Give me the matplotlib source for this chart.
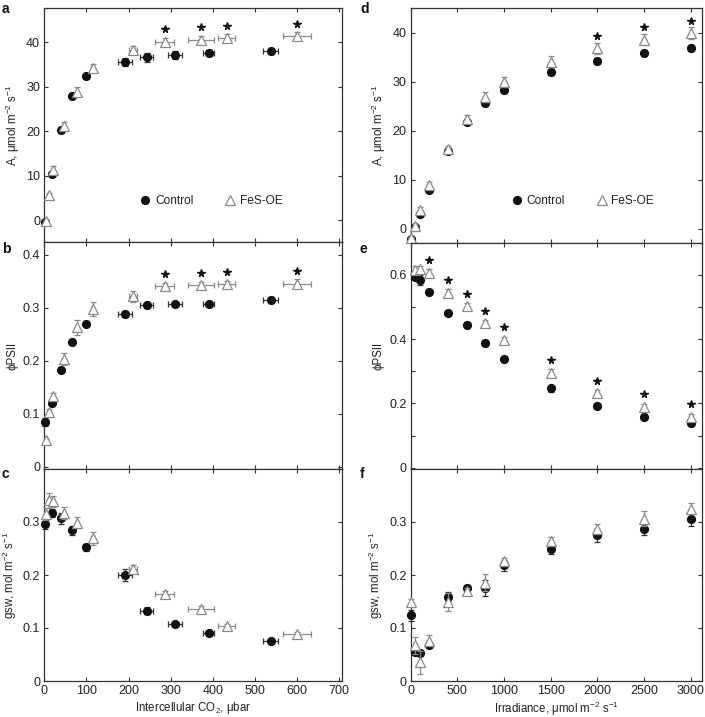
import matplotlib
matplotlib.use("Agg")
import matplotlib.pyplot as plt
from matplotlib.ticker import MultipleLocator
from matplotlib.transforms import offset_copy
from matplotlib.lines import Line2D

plt.rcParams['font.family'] = ['Liberation Sans', 'DejaVu Sans']
plt.rcParams['mathtext.fontset'] = 'custom'
plt.rcParams['mathtext.rm'] = 'Liberation Sans'
plt.rcParams['mathtext.it'] = 'Liberation Sans'

# ---------------- data: CO2 response (left column) ----------------
ci_ctrl = [2, 18, 39, 66, 100, 192, 243, 310, 390, 538]
ci_ctrl_err = [1, 1, 2, 2, 3, 16, 15, 17, 13, 18]
ci_fes = [3, 10, 21, 46, 78, 115, 211, 286, 372, 433, 600]
ci_fes_err = [1, 1, 1, 2, 3, 4, 10, 22, 31, 20, 34]

a_ctrl = [-0.5, 10.3, 20.3, 28.0, 32.5, 35.6, 36.7, 37.1, 37.7, 38.0]
a_ctrl_err = [0.3, 0.5, 0.5, 0.5, 0.6, 0.9, 1.0, 0.9, 0.7, 0.6]
a_fes = [-0.3, 5.7, 11.2, 21.1, 28.9, 34.2, 38.3, 40.2, 40.6, 41.0, 41.4]
a_fes_err = [0.3, 0.5, 0.9, 0.9, 1.1, 0.9, 0.8, 0.8, 0.9, 0.8, 0.9]
a_sig = [0, 0, 0, 0, 0, 0, 0, 1, 1, 1, 1]

phi_ci_ctrl = [0.085, 0.121, 0.182, 0.236, 0.270, 0.288, 0.304, 0.307, 0.307, 0.314]
phi_ci_ctrl_err = [0.008, 0.005, 0.004, 0.004, 0.004, 0.005, 0.004, 0.004, 0.004, 0.005]
phi_ci_fes = [0.050, 0.104, 0.134, 0.203, 0.263, 0.297, 0.321, 0.340, 0.342, 0.344, 0.345]
phi_ci_fes_err = [0.004, 0.005, 0.006, 0.012, 0.014, 0.013, 0.010, 0.006, 0.006, 0.007, 0.008]
phi_ci_sig = [0, 0, 0, 0, 0, 0, 0, 1, 1, 1, 1]

gsw_ci_ctrl = [0.297, 0.317, 0.307, 0.284, 0.252, 0.200, 0.133, 0.107, 0.090, 0.075]
gsw_ci_ctrl_err = [0.010, 0.008, 0.010, 0.008, 0.007, 0.012, 0.006, 0.004, 0.003, 0.003]
gsw_ci_fes = [0.315, 0.341, 0.339, 0.317, 0.299, 0.269, 0.211, 0.164, 0.135, 0.104, 0.089]
gsw_ci_fes_err = [0.012, 0.014, 0.011, 0.012, 0.010, 0.012, 0.008, 0.006, 0.007, 0.004, 0.004]

# ---------------- data: light response (right column) ----------------
irr = [0, 50, 100, 200, 400, 600, 800, 1000, 1500, 2000, 2500, 3000]
a_irr_ctrl = [-2.2, 0.3, 3.0, 7.8, 15.8, 21.8, 25.6, 28.3, 32.0, 34.3, 35.9, 36.9]
a_irr_ctrl_err = [0.3, 0.3, 0.4, 0.4, 0.5, 0.5, 0.6, 0.6, 0.6, 0.6, 0.6, 0.6]
a_irr_fes = [-2.0, 0.55, 3.8, 8.8, 16.3, 22.4, 26.9, 30.0, 34.1, 36.8, 38.6, 39.9]
a_irr_fes_err = [0.3, 0.3, 0.5, 0.7, 0.6, 0.7, 1.0, 1.0, 1.1, 1.1, 1.2, 1.2]
a_irr_sig = [0, 0, 0, 0, 0, 0, 0, 0, 0, 1, 1, 1]

irr_phi = [50, 100, 200, 400, 600, 800, 1000, 1500, 2000, 2500, 3000]
phi_irr_ctrl = [0.593, 0.583, 0.546, 0.481, 0.443, 0.388, 0.337, 0.247, 0.192, 0.159, 0.138]
phi_irr_ctrl_err = [0.008, 0.016, 0.006, 0.006, 0.006, 0.008, 0.008, 0.010, 0.010, 0.008, 0.007]
phi_irr_fes = [0.614, 0.617, 0.607, 0.545, 0.503, 0.449, 0.398, 0.296, 0.232, 0.189, 0.159]
phi_irr_fes_err = [0.012, 0.012, 0.010, 0.010, 0.010, 0.010, 0.010, 0.010, 0.010, 0.008, 0.008]
phi_irr_sig = [0, 0, 1, 1, 1, 1, 1, 1, 1, 1, 1]

gsw_irr_ctrl = [0.124, 0.054, 0.052, 0.067, 0.159, 0.175, 0.175, 0.218, 0.249, 0.275, 0.287, 0.305]
gsw_irr_ctrl_err = [0.010, 0.005, 0.005, 0.004, 0.008, 0.006, 0.015, 0.010, 0.010, 0.012, 0.012, 0.013]
gsw_irr_fes = [0.149, 0.067, 0.035, 0.076, 0.149, 0.169, 0.185, 0.226, 0.265, 0.287, 0.306, 0.325]
gsw_irr_fes_err = [0.006, 0.016, 0.022, 0.010, 0.017, 0.006, 0.016, 0.007, 0.006, 0.009, 0.014, 0.010]

# ---------------- styling ----------------
TXT = '#222222'
SPINE = '#333333'
CTRL_C = '#111111'
FES_C = '#8a8a8a'
FS = 9.0
LFS = 8.6
AXFS = 8.3

fig = plt.figure(figsize=(7.05, 7.17), dpi=100)
W, H = 705.0, 717.0


def make_ax(x0, x1, y0, y1):
    return fig.add_axes([x0 / W, 1 - y1 / H, (x1 - x0) / W, (y1 - y0) / H])


def style(ax, xlim, ylim, xmaj, ymaj, ymin=None, xlabels=False):
    ax.set_xlim(*xlim)
    ax.set_ylim(*ylim)
    ax.xaxis.set_major_locator(MultipleLocator(xmaj))
    ax.yaxis.set_major_locator(MultipleLocator(ymaj))
    if ymin is not None:
        ax.yaxis.set_minor_locator(MultipleLocator(ymin))
        ax.tick_params(axis='y', which='minor', direction='in', length=3,
                       width=0.8, color=SPINE, left=True, right=True)
    ax.tick_params(axis='both', which='major', direction='in', length=3,
                   width=0.8, color=SPINE, labelcolor=TXT, labelsize=FS,
                   top=True, right=True, pad=3)
    if not xlabels:
        ax.tick_params(axis='x', labelbottom=False)
    for s in ax.spines.values():
        s.set_color(SPINE)
        s.set_linewidth(0.9)


def draw(ax, xc, yc, xce, yce, xf, yf, xfe, yfe, sig):
    ax.errorbar(xc, yc, xerr=xce, yerr=yce, fmt='o', ms=5.6, mfc=CTRL_C,
                mec=CTRL_C, ecolor='#333333', elinewidth=0.9, capsize=2.3,
                capthick=0.9, zorder=3, clip_on=False)
    ax.errorbar(xf, yf, xerr=xfe, yerr=yfe, fmt='^', ms=7.3, mfc='white',
                mec=FES_C, mew=0.9, ecolor=FES_C, elinewidth=0.9, capsize=2.3,
                capthick=0.9, zorder=4, clip_on=False)
    tr = offset_copy(ax.transData, fig=fig, x=0, y=12.5, units='dots')
    sx = [x for x, s in zip(xf, sig) if s]
    sy = [y for y, s in zip(yf, sig) if s]
    ax.plot(sx, sy, linestyle='none', marker='*', ms=5.5, color='#111111',
            transform=tr, zorder=5)


def legend(ax, cx, cy):
    h = [Line2D([], [], linestyle='none', marker='o', ms=5.6, mfc=CTRL_C, mec=CTRL_C),
         Line2D([], [], linestyle='none', marker='^', ms=7.3, mfc='white', mec=FES_C, mew=0.9)]
    ax.legend(h, ['Control', 'FeS-OE'], loc='center', bbox_to_anchor=(cx, cy), ncol=2,
              frameon=False, fontsize=LFS, handletextpad=0.3,
              columnspacing=2.6, handlelength=1.0, labelcolor=TXT)


XL_CI = (0, 707)
XL_IRR = (0, 3120)

# panel a
ax_a = make_ax(44.3, 342, 8.3, 242.3)
draw(ax_a, ci_ctrl, a_ctrl, ci_ctrl_err, a_ctrl_err,
     ci_fes, a_fes, ci_fes_err, a_fes_err, a_sig)
style(ax_a, XL_CI, (-5, 47.7), 100, 10)
ax_a.set_ylabel(r'A, $\mathrm{\mu}$mol m$^{-2}$ s$^{-1}$', fontsize=AXFS, color=TXT, labelpad=3)
legend(ax_a, 0.56, 0.176)

# panel b
ax_b = make_ax(44.3, 342, 242.3, 469)
draw(ax_b, ci_ctrl, phi_ci_ctrl, ci_ctrl_err, phi_ci_ctrl_err,
     ci_fes, phi_ci_fes, ci_fes_err, phi_ci_fes_err, phi_ci_sig)
style(ax_b, XL_CI, (-0.004, 0.423), 100, 0.1)
ax_b.set_yticks([0, 0.1, 0.2, 0.3, 0.4])
ax_b.set_yticklabels(['0', '0.1', '0.2', '0.3', '0.4'])
ax_b.set_ylabel('ϕPSII', fontsize=AXFS, color=TXT, labelpad=3)

# panel c
ax_c = make_ax(44.3, 342, 469, 681)
draw(ax_c, ci_ctrl, gsw_ci_ctrl, ci_ctrl_err, gsw_ci_ctrl_err,
     ci_fes, gsw_ci_fes, ci_fes_err, gsw_ci_fes_err, [0] * len(ci_fes))
style(ax_c, XL_CI, (0, 0.4), 100, 0.1, xlabels=True)
ax_c.set_yticks([0, 0.1, 0.2, 0.3])
ax_c.set_yticklabels(['0', '0.1', '0.2', '0.3'])
ax_c.set_ylabel(r'gsw, mol m$^{-2}$ s$^{-1}$', fontsize=AXFS, color=TXT, labelpad=3)
ax_c.set_xlabel(r'Intercellular CO$_2$, $\mathrm{\mu}$bar', fontsize=AXFS, color=TXT, labelpad=2)

# panel d
ax_d = make_ax(410.7, 702, 8.3, 242.7)
draw(ax_d, irr, a_irr_ctrl, None, a_irr_ctrl_err,
     irr, a_irr_fes, None, a_irr_fes_err, a_irr_sig)
style(ax_d, XL_IRR, (-2.9, 45), 500, 10)
ax_d.set_ylabel(r'A, $\mathrm{\mu}$mol m$^{-2}$ s$^{-1}$', fontsize=AXFS, color=TXT, labelpad=3)
legend(ax_d, 0.59, 0.178)

# panel e
ax_e = make_ax(410.7, 702, 242.7, 469)
draw(ax_e, irr_phi, phi_irr_ctrl, None, phi_irr_ctrl_err,
     irr_phi, phi_irr_fes, None, phi_irr_fes_err, phi_irr_sig)
style(ax_e, XL_IRR, (-0.004, 0.7), 500, 0.2, ymin=0.1)
ax_e.set_yticks([0, 0.2, 0.4, 0.6])
ax_e.set_yticklabels(['0', '0.2', '0.4', '0.6'])
ax_e.set_ylabel('ϕPSII', fontsize=AXFS, color=TXT, labelpad=3)

# panel f
ax_f = make_ax(410.7, 702, 469, 681)
draw(ax_f, irr, gsw_irr_ctrl, None, gsw_irr_ctrl_err,
     irr, gsw_irr_fes, None, gsw_irr_fes_err, [0] * len(irr))
style(ax_f, XL_IRR, (0, 0.4), 500, 0.1, xlabels=True)
ax_f.set_yticks([0, 0.1, 0.2, 0.3])
ax_f.set_yticklabels(['0', '0.1', '0.2', '0.3'])
ax_f.set_ylabel(r'gsw, mol m$^{-2}$ s$^{-1}$', fontsize=AXFS, color=TXT, labelpad=3)
ax_f.set_xlabel(r'Irradiance, $\mathrm{\mu}$mol m$^{-2}$ s$^{-1}$', fontsize=AXFS, color=TXT, labelpad=2)

# panel letters
for lab, (px, py) in zip('abcdef', [(2, 9), (2, 249), (2, 474), (360, 9), (360, 249), (360, 474)]):
    fig.text(px / W, 1 - py / H, lab, fontsize=10, fontweight='bold',
             color='#111111', va='center', ha='left')

fig.savefig('out.png', dpi=100)
